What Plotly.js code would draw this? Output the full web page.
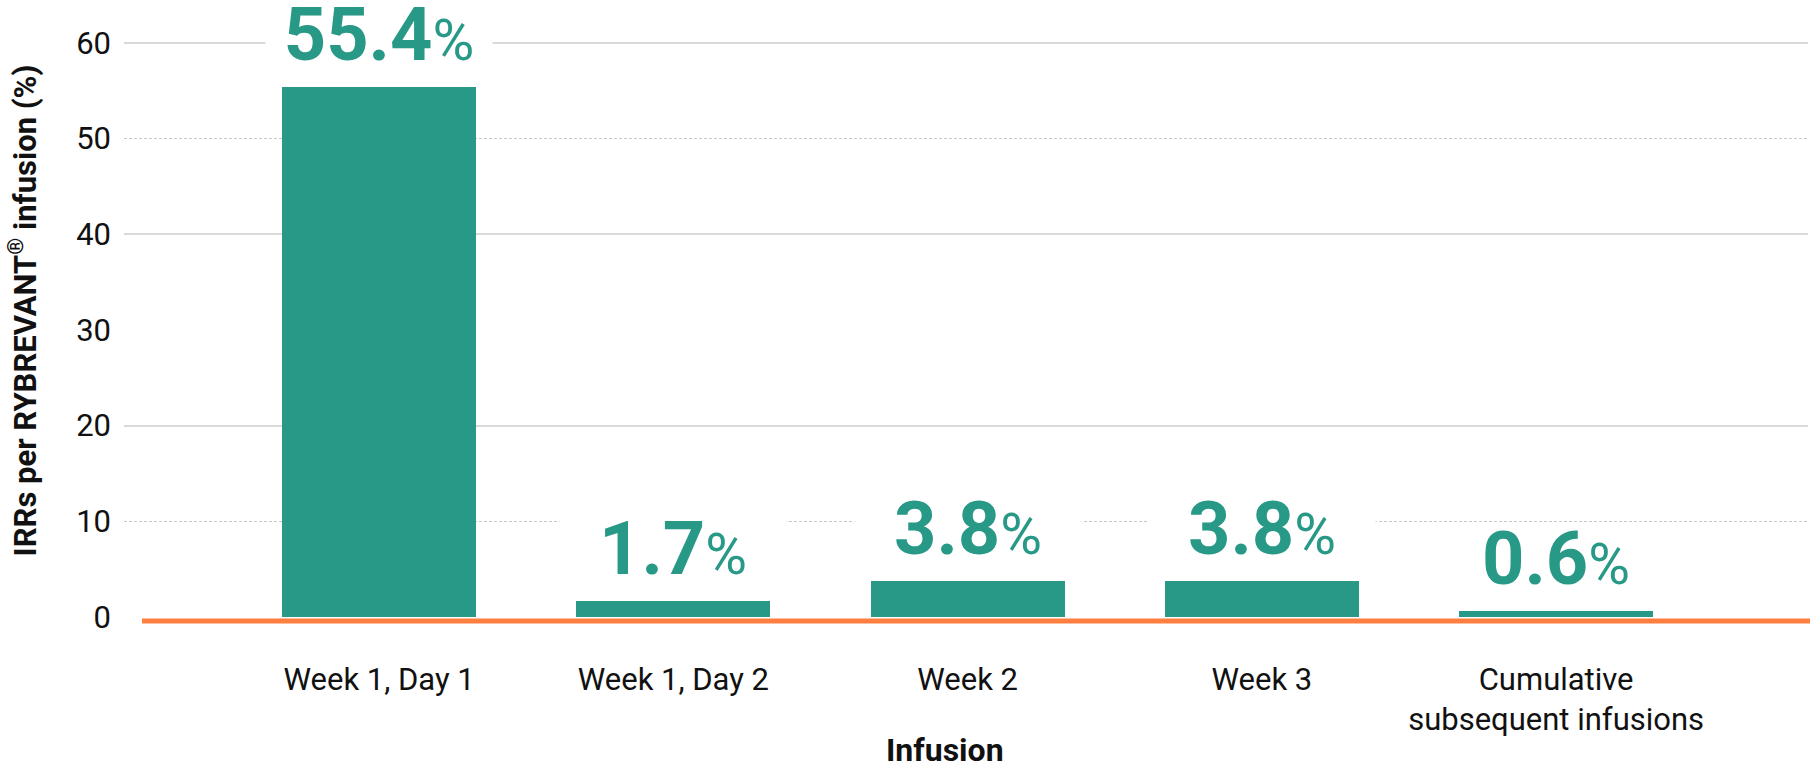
<!DOCTYPE html>
<html>
<head>
<meta charset="utf-8">
<script src="https://cdn.plot.ly/plotly-3.0.1.min.js"></script>
<style>
  html, body { margin: 0; padding: 0; background: #ffffff; }
  #chart { width: 1810px; height: 768px; }
</style>
</head>
<body>
<div id="chart"></div>
<script>
// ---- Data ----
const categories = ['Week 1, Day 1', 'Week 1, Day 2', 'Week 2', 'Week 3', 'Cumulative<br>subsequent infusions'];
const irrPercent = [55.4, 1.7, 3.8, 3.8, 0.6];
const yTickVals = [0, 10, 20, 30, 40, 50, 60];
const solidGridVals = [20, 40, 60];
const dottedGridVals = [10, 50];
const yTitle = 'IRRs per RYBREVANT<sup>®</sup> infusion (%)';
const xTitle = 'Infusion';

// ---- Styles ----
const TEAL = '#289987';
const ORANGE = '#FF7F41';
const FONT = 'Roboto, "Noto Sans", Arial, sans-serif';
const yRange = [-0.42, 64.46];
const xRange = [-0.867, 4.856];

const traces = [
  {
    type: 'bar',
    x: categories,
    y: irrPercent,
    width: 0.66,
    marker: { color: TEAL, line: { width: 0 } },
    hoverinfo: 'skip',
    showlegend: false
  },
  { type: 'scatter', x: [], y: [], yaxis: 'y2', showlegend: false, hoverinfo: 'skip' },
  { type: 'scatter', x: [], y: [], yaxis: 'y3', showlegend: false, hoverinfo: 'skip' }
];

const labelAnnotations = categories.map((c, i) => ({
  xref: 'x', yref: 'y',
  x: c, y: irrPercent[i],
  xanchor: 'center', yanchor: 'bottom',
  yshift: 8,
  showarrow: false,
  width: 226,
  bgcolor: i === categories.length - 1 ? 'rgba(255,255,255,0)' : '#ffffff',
  borderpad: 0,
  text: '<b>' + irrPercent[i].toFixed(1) + '</b><span style="font-size:57px">%</span>',
  font: { family: FONT, size: 74, color: TEAL }
}));

const layout = {
  width: 1810,
  height: 768,
  margin: { l: 124, r: 2, t: 0, b: 147 },
  paper_bgcolor: '#ffffff',
  plot_bgcolor: 'rgba(0,0,0,0)',
  bargap: 0,
  font: { family: FONT, color: '#111111' },
  xaxis: {
    type: 'category',
    range: xRange,
    showgrid: false,
    zeroline: false,
    showline: false,
    ticks: '',
    ticklabelstandoff: 37,
    tickfont: { family: FONT, size: 31, color: '#111111' },
    fixedrange: true
  },
  yaxis: {
    range: yRange,
    tickmode: 'array',
    tickvals: yTickVals,
    showgrid: false,
    zeroline: false,
    showline: false,
    ticks: '',
    ticklabelstandoff: 12,
    tickfont: { family: FONT, size: 31, color: '#111111' },
    title: {
      text: '<b>' + yTitle + '</b>',
      font: { family: FONT, size: 31, color: '#111111' },
      standoff: 30
    },
    fixedrange: true
  },
  yaxis2: {
    overlaying: 'y',
    range: yRange,
    tickmode: 'array',
    tickvals: solidGridVals,
    showticklabels: false,
    ticks: '',
    showgrid: true,
    gridcolor: '#d9d9d9',
    gridwidth: 2,
    zeroline: false,
    showline: false,
    fixedrange: true
  },
  yaxis3: {
    overlaying: 'y',
    range: yRange,
    tickmode: 'array',
    tickvals: dottedGridVals,
    showticklabels: false,
    ticks: '',
    showgrid: true,
    gridcolor: '#c8c8c8',
    gridwidth: 1,
    griddash: '3px,2px',
    zeroline: false,
    showline: false,
    fixedrange: true
  },
  shapes: [
    {
      type: 'line', xref: 'paper', yref: 'paper',
      x0: 0.0107, x1: 1.002, y0: 0, y1: 0,
      line: { color: ORANGE, width: 5 },
      layer: 'above'
    }
  ],
  annotations: labelAnnotations.concat([
    {
      xref: 'paper', yref: 'paper',
      x: 0.4875, y: -0.207, xanchor: 'center', yanchor: 'middle',
      showarrow: false,
      text: '<b>' + xTitle + '</b>',
      font: { family: FONT, size: 32, color: '#111111' }
    }
  ])
};

Plotly.newPlot('chart', traces, layout, { displayModeBar: false, staticPlot: true });
</script>
</body>
</html>
